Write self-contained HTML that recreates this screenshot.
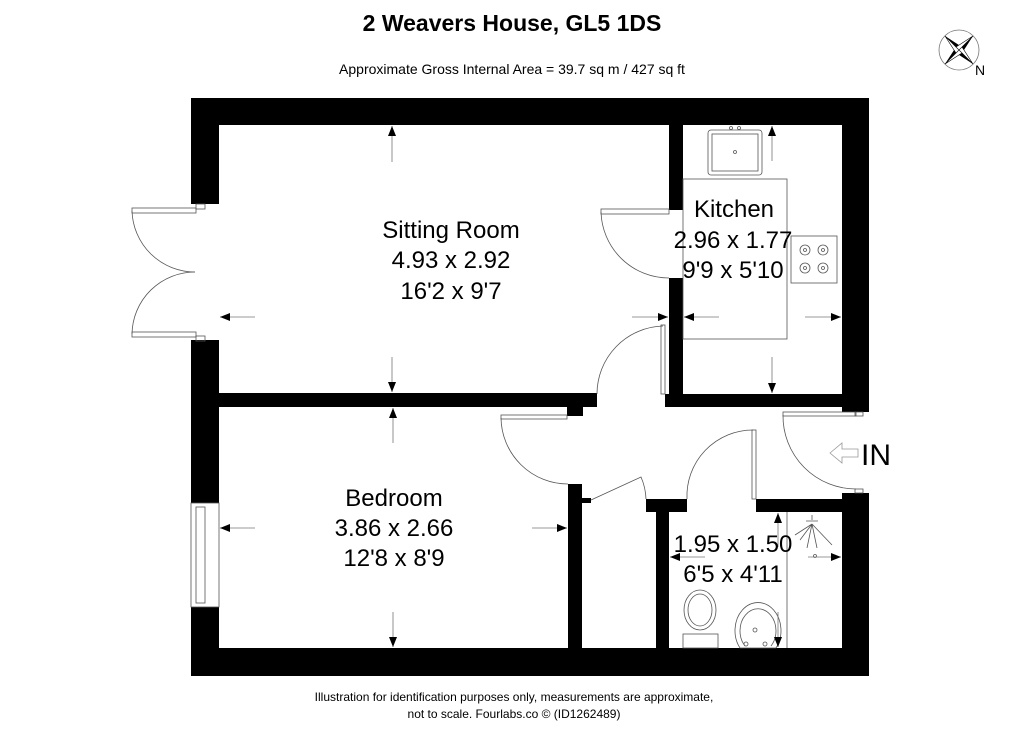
<!DOCTYPE html>
<html><head><meta charset="utf-8"><style>
html,body{margin:0;padding:0;background:#fff;}
svg{display:block;}
text{font-family:"Liberation Sans",Arial,sans-serif;fill:#000;}
</style></head><body>
<svg width="1024" height="740" viewBox="0 0 1024 740" xmlns="http://www.w3.org/2000/svg">
<defs>
<marker id="ah" markerWidth="10" markerHeight="8" refX="10" refY="4" orient="auto" markerUnits="userSpaceOnUse">
<path d="M0,0 L10,4 L0,8 Z" fill="#000"/></marker>
</defs>
<text x="512" y="31" font-size="23" font-weight="bold" text-anchor="middle">2 Weavers House, GL5 1DS</text>
<text x="512" y="74" font-size="14" text-anchor="middle">Approximate Gross Internal Area = 39.7 sq m / 427 sq ft</text>

<!-- compass -->
<g transform="translate(959,50)">
<circle r="20" fill="none" stroke="#777" stroke-width="0.8"/>
<path d="M-14,-14 L3,-3 L0,0 Z M14,14 L-3,3 L0,0 Z M14,-14 L3,3 L0,0 Z M-14,14 L-3,-3 L0,0 Z" fill="#000"/>
<path d="M-14,-14 L-3,3 L0,0 Z M14,14 L3,-3 L0,0 Z M14,-14 L-3,-3 L0,0 Z M-14,14 L3,3 L0,0 Z" fill="#fff" stroke="#000" stroke-width="0.6"/>
</g>
<text x="975" y="75" font-size="14">N</text>

<g fill="#000">
<rect x="191" y="98" width="678" height="27"/>
<rect x="191" y="98" width="28" height="106"/>
<rect x="191" y="340" width="28" height="163"/>
<rect x="191" y="607" width="28" height="69"/>
<rect x="191" y="648" width="678" height="28"/>
<rect x="842" y="98" width="27" height="314"/>
<rect x="842" y="493" width="27" height="183"/>
<rect x="219" y="393" width="378" height="14"/>
<rect x="567" y="407" width="16" height="9"/>
<rect x="669" y="125" width="14" height="85"/>
<rect x="669" y="278" width="14" height="117"/>
<rect x="665" y="394" width="204" height="13"/>
<rect x="568" y="484" width="14" height="164"/>
<rect x="582" y="498" width="9" height="5"/>
<rect x="646" y="499" width="41" height="13"/>
<rect x="656" y="499" width="13" height="149"/>
<rect x="756" y="499" width="113" height="13"/>
</g>

<g fill="none" stroke="#555" stroke-width="0.8">
<rect x="132" y="208" width="64" height="5"/>
<rect x="132" y="332" width="64" height="5"/>
<rect x="196" y="204" width="9" height="5"/>
<rect x="196" y="336" width="9" height="5"/>
<path d="M132,211 A63,63 0 0 0 195,272"/>
<path d="M132,334 A63,63 0 0 1 195,272"/>
<rect x="191" y="503" width="28" height="104"/>
<rect x="196" y="507" width="9" height="96"/>
<rect x="601" y="209" width="68" height="5"/>
<path d="M601,212 A68,68 0 0 0 669,278"/>
<rect x="661" y="325" width="4" height="69"/>
<path d="M663,326 A68,68 0 0 0 597,394"/>
<rect x="501" y="415" width="66" height="4"/>
<path d="M501,418 A67,67 0 0 0 568,484"/>
<path d="M591,500 L641,477 A60,60 0 0 1 646,499"/>
<rect x="752" y="430" width="4" height="69"/>
<path d="M753,430 A66,66 0 0 0 687,499"/>
<rect x="783" y="412" width="73" height="4"/>
<rect x="855" y="412" width="8" height="4"/>
<rect x="855" y="489" width="8" height="4"/>
<path d="M783,415 A73,73 0 0 0 856,489"/>
<rect x="683" y="179" width="104" height="160"/>
<rect x="708" y="130" width="54" height="45" rx="3"/>
<rect x="712" y="134" width="46" height="37"/>
<circle cx="735" cy="152" r="1.5"/>
<circle cx="731" cy="128" r="1.5"/><circle cx="739" cy="128" r="1.5"/>
<rect x="791" y="236" width="46" height="47"/>
<circle cx="805" cy="250" r="5"/><circle cx="823" cy="250" r="5"/>
<circle cx="805" cy="268" r="5"/><circle cx="823" cy="268" r="5"/>
<circle cx="805" cy="250" r="1.5"/><circle cx="823" cy="250" r="1.5"/>
<circle cx="805" cy="268" r="1.5"/><circle cx="823" cy="268" r="1.5"/>
<line x1="787" y1="512" x2="787" y2="648"/>
<ellipse cx="700" cy="610" rx="16" ry="20"/>
<ellipse cx="700" cy="610" rx="12" ry="16"/>
<rect x="683" y="634" width="35" height="14"/>
<path d="M740,648 A23,28 0 1 1 776,648 Z"/>
<path d="M745,646 A18,22 0 1 1 771,646"/>
<circle cx="755" cy="630" r="2"/><circle cx="746" cy="644" r="2"/><circle cx="765" cy="644" r="2"/>
<path d="M812,515 L812,520 M806,521 L818,521 M812,524 L800,540 M812,524 L807,548 M812,524 L817,548 M812,524 L832,545 M812,524 L795,535"/>
<circle cx="815" cy="556" r="1.5"/>
<path d="M830,453 L842,443 L842,449 L858,449 L858,457 L842,457 L842,463 Z" stroke="#999"/>
</g>
<text x="861" y="465" font-size="30">IN</text>

<g stroke="#777" stroke-width="0.8" marker-end="url(#ah)">
<line x1="392" y1="162" x2="392" y2="126"/>
<line x1="392" y1="357" x2="392" y2="392"/>
<line x1="255" y1="317" x2="220" y2="317"/>
<line x1="632" y1="317" x2="668" y2="317"/>
<line x1="719" y1="317" x2="684" y2="317"/>
<line x1="805" y1="317" x2="841" y2="317"/>
<line x1="772" y1="161" x2="772" y2="126"/>
<line x1="772" y1="357" x2="772" y2="393"/>
<line x1="393" y1="443" x2="393" y2="408"/>
<line x1="393" y1="612" x2="393" y2="647"/>
<line x1="255" y1="528" x2="220" y2="528"/>
<line x1="532" y1="528" x2="567" y2="528"/>
<line x1="705" y1="557" x2="670" y2="557"/>
<line x1="808" y1="557" x2="841" y2="557"/>
<line x1="778" y1="547" x2="778" y2="513"/>
<line x1="778" y1="612" x2="778" y2="647"/>
</g>

<g font-size="24" text-anchor="middle">
<text x="451" y="238">Sitting Room</text>
<text x="451" y="268">4.93 x 2.92</text>
<text x="451" y="299">16'2 x 9'7</text>
<text x="734" y="217">Kitchen</text>
<text x="733" y="248">2.96 x 1.77</text>
<text x="733" y="278">9'9 x 5'10</text>
<text x="394" y="506">Bedroom</text>
<text x="394" y="536">3.86 x 2.66</text>
<text x="394" y="566">12'8 x 8'9</text>
<text x="733" y="552">1.95 x 1.50</text>
<text x="733" y="582">6'5 x 4'11</text>
</g>

<text x="514" y="701" font-size="12" text-anchor="middle">Illustration for identification purposes only, measurements are approximate,</text>
<text x="514" y="718" font-size="12" text-anchor="middle">not to scale. Fourlabs.co © (ID1262489)</text>
</svg>
</body></html>
